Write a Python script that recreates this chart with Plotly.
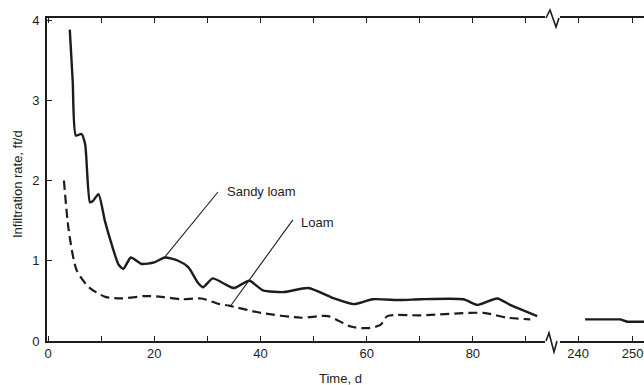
import plotly.graph_objects as go

# ---- data ----
sandy_x = [4.1, 4.65, 5.25, 6.3, 7.0, 7.9, 8.4, 9.5, 10.7, 12.0, 13.3, 14.2, 15.6, 17.6, 20.0, 22.0, 24.5,
           26.4, 28.3, 29.2, 31.0, 33.0, 35.0, 37.9, 40.5, 44.5, 49.0, 53.9, 57.6, 61.1, 66.4, 70.2,
           78.2, 80.9, 84.6, 87.0, 92.1]
sandy_y = [3.88, 3.24, 2.56, 2.58, 2.45, 1.73, 1.74, 1.83, 1.5, 1.2, 0.95, 0.9, 1.04, 0.96, 0.98, 1.04, 1.0,
           0.92, 0.72, 0.67, 0.78, 0.72, 0.66, 0.75, 0.63, 0.61, 0.66, 0.53, 0.46, 0.52, 0.51, 0.52,
           0.52, 0.45, 0.53, 0.45, 0.31]
loam_x = [3.0, 3.9, 5.4, 7.7, 10.8, 13.9, 18.2, 21.4, 25.1, 28.9, 32.3, 34.1, 40.1, 47.7, 52.7,
          57.0, 60.2, 62.6, 63.9, 70.2, 82.0, 86.5, 90.8]
loam_y = [2.0, 1.38, 0.88, 0.67, 0.55, 0.53, 0.56, 0.55, 0.52, 0.53, 0.46, 0.44, 0.35, 0.29, 0.31,
          0.18, 0.16, 0.2, 0.31, 0.32, 0.35, 0.29, 0.27]
late_x = [241.3, 247.8, 249.0, 252.2]
late_y = [0.27, 0.27, 0.24, 0.24]

x_ticks_left = [0, 10, 20, 30, 40, 50, 60, 70, 80, 90]
x_labels_left = ["0", "", "20", "", "40", "", "60", "", "80", ""]
x_ticks_right = [240, 250]
x_labels_right = ["240", "250"]
y_ticks = [0, 1, 2, 3, 4]

INK = "#1c1c1c"
W, H = 644, 385
SL, SR, ST, SB = 47, 644, 18, 341  # plot area in screen pixels
ML, MR, MT, MB = SL, W - SR, ST, H - SB
PW, PH = SR - SL, SB - ST


def px(x):
    return (x - SL) / PW


def py(y):
    return (SB - y) / PH


split = px(552)

fig = go.Figure()
fig.add_trace(go.Scatter(x=sandy_x, y=sandy_y, mode="lines", xaxis="x", yaxis="y",
                         line=dict(color=INK, width=2.4, shape="spline", smoothing=0.6),
                         showlegend=False, hoverinfo="skip"))
fig.add_trace(go.Scatter(x=loam_x, y=loam_y, mode="lines", xaxis="x", yaxis="y",
                         line=dict(color=INK, width=2.2, dash="9px,5px", shape="spline", smoothing=0.7),
                         showlegend=False, hoverinfo="skip"))
fig.add_trace(go.Scatter(x=late_x, y=late_y, mode="lines", xaxis="x2", yaxis="y",
                         line=dict(color=INK, width=2.4),
                         showlegend=False, hoverinfo="skip"))

tickfont = dict(family="Liberation Sans, Arial, sans-serif", size=13, color=INK)
axis_common = dict(showline=True, linecolor=INK, linewidth=1.6, mirror="ticks",
                   ticks="inside", ticklen=5, tickwidth=1.4, tickcolor=INK,
                   showgrid=False, zeroline=False, tickfont=tickfont)

fig.update_layout(
    width=W, height=H, margin=dict(l=ML, r=MR, t=MT, b=MB),
    paper_bgcolor="white", plot_bgcolor="white",
    xaxis=dict(domain=[0, split], range=[-0.19, 94.9], tickvals=x_ticks_left,
               ticktext=x_labels_left, anchor="y", **axis_common),
    xaxis2=dict(domain=[split, 1], range=[235.23, 252.1], tickvals=x_ticks_right,
                ticktext=x_labels_right, anchor="y", ticklabeloverflow="allow", **axis_common),
    yaxis=dict(domain=[0, 1], range=[0, 4.025], tickvals=y_ticks, showline=True,
               linecolor=INK, linewidth=1.6, ticks="inside", ticklen=5, tickwidth=1.4,
               tickcolor=INK, showgrid=False, zeroline=False, tickfont=tickfont,
               ticklabelstandoff=3),
)

shapes = []
# break marks: white cover then zigzag
for yline, pts in [(18, [(546, 18), (550, 10), (556, 27), (559, 18)]),
                   (341, [(546, 341), (549, 333), (554, 352), (557, 341)])]:
    shapes.append(dict(type="line", xref="paper", yref="paper",
                       x0=px(545), x1=px(560), y0=py(yline), y1=py(yline),
                       line=dict(color="white", width=4), layer="above"))
    path = "M " + " L ".join(f"{px(a):.5f},{py(b):.5f}" for a, b in pts)
    shapes.append(dict(type="path", xref="paper", yref="paper", path=path,
                       line=dict(color=INK, width=1.6), layer="above"))

# leader lines
shapes.append(dict(type="line", xref="x", yref="y", x0=32.0, y0=1.857, x1=22.0, y1=1.047,
                   line=dict(color=INK, width=1.1)))
shapes.append(dict(type="line", xref="x", yref="y", x0=46.1, y0=1.51, x1=34.5, y1=0.449,
                   line=dict(color=INK, width=1.1)))
fig.update_layout(shapes=shapes)

annfont = dict(family="Liberation Sans, Arial, sans-serif", size=13, color=INK)
fig.add_annotation(x=33.3, y=1.857, xref="x", yref="y", text="Sandy loam", showarrow=False,
                   xanchor="left", yanchor="middle", font=annfont)
fig.add_annotation(x=47.3, y=1.48, xref="x", yref="y", text="Loam", showarrow=False,
                   xanchor="left", yanchor="middle", font=annfont)
fig.add_annotation(x=px(340), y=py(378), xref="paper", yref="paper", text="Time, d",
                   showarrow=False, xanchor="center", yanchor="middle", font=annfont)
fig.add_annotation(x=px(18), y=py(184), xref="paper", yref="paper", text="Infiltration rate, ft/d",
                   showarrow=False, xanchor="center", yanchor="middle", textangle=-90, font=annfont)

fig.write_html("out.html", config={"displayModeBar": False},
               post_script="document.body.style.margin='0';document.body.style.overflow='hidden';")
